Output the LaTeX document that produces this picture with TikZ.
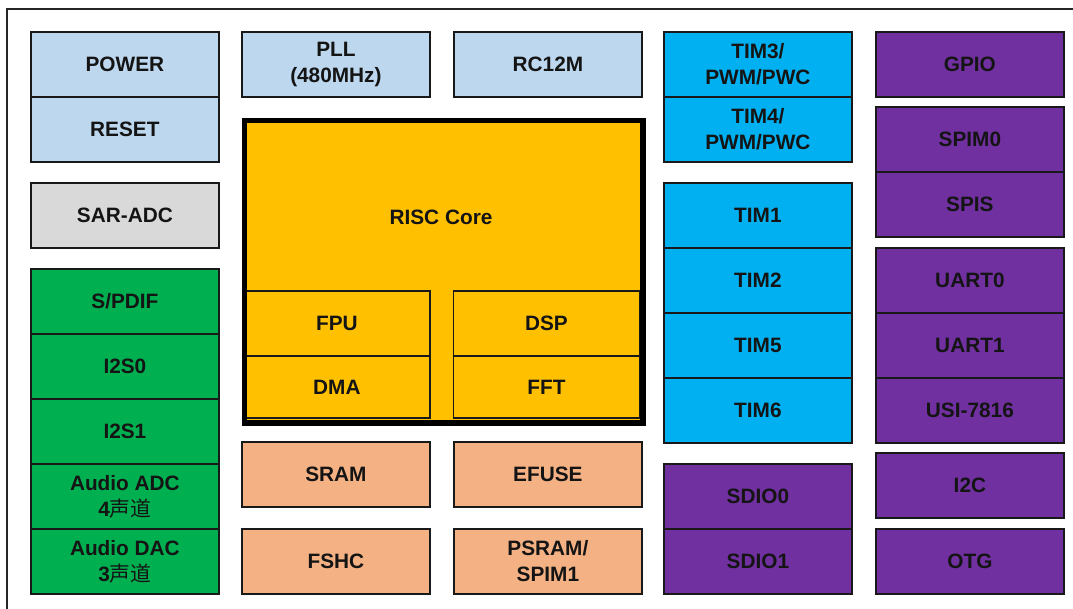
\documentclass[tikz,border=0pt]{standalone}
\usepackage{fontspec}
\setmainfont{Liberation Sans}
\newfontfamily\cjk{Noto Sans CJK SC}
\definecolor{cblue}{HTML}{BDD7EE}
\definecolor{cgray}{HTML}{D9D9D9}
\definecolor{cgreen}{HTML}{00B050}
\definecolor{cgold}{HTML}{FFC000}
\definecolor{csalmon}{HTML}{F4B183}
\definecolor{ccyan}{HTML}{00B0F0}
\definecolor{cpurple}{HTML}{7030A0}
\definecolor{txt}{HTML}{141414}
\tikzset{
  blk/.style={draw=black!90, line width=1.8pt, anchor=north west, minimum width=188pt,
    minimum height=65pt, inner sep=0pt, align=center, text=txt,
    font=\fontsize{20.8}{26}\selectfont\bfseries},
}
\begin{document}
\begin{tikzpicture}[x=1pt,y=-1pt]
\useasboundingbox (0,0) rectangle (1073,609);
\draw[line width=1.5pt, draw=black!85] (7,9) rectangle (1080,615);
% column 1
\node[blk, fill=cblue] (power) at (30,31) {POWER};
\node[blk, fill=cblue] (reset) at (30,96) {RESET};
\node[blk, fill=cgray] (adc) at (30,182) {SAR-ADC};
\node[blk, fill=cgreen] (spdif) at (30,268) {S/PDIF};
\node[blk, fill=cgreen] (i2s0) at (30,333) {I2S0};
\node[blk, fill=cgreen] (i2s1) at (30,398) {I2S1};
\node[blk, fill=cgreen] (aadc) at (30,463) {Audio ADC\\4{\cjk\mdseries 声道}};
\node[blk, fill=cgreen] (adac) at (30,528) {Audio DAC\\3{\cjk\mdseries 声道}};
% column 2/3 top
\node[blk, fill=cblue] (pll) at (241,31) {PLL\\(480MHz)};
\node[blk, fill=cblue] (rc) at (453,31) {RC12M};
% core
\fill[cgold] (241.5,118) rectangle (640,420);
\node[blk, fill=cgold, minimum width=186pt, minimum height=65pt] (fpu) at (243,290) {FPU};
\node[blk, fill=cgold, minimum width=186pt, minimum height=62pt] (dma) at (243,355) {DMA};
\node[blk, fill=cgold, minimum width=186pt, minimum height=65pt] (dsp) at (452.5,290) {DSP};
\node[blk, fill=cgold, minimum width=186pt, minimum height=62pt] (fft) at (452.5,355) {FFT};
\node[draw=black, line width=5.5pt, anchor=north west, minimum width=398.5pt, minimum height=302pt, inner sep=0pt] (core) at (241.5,118) {};
\node[font=\fontsize{20.8}{26}\selectfont\bfseries, text=txt] (corelbl) at (441,217) {RISC Core};
% memory
\node[blk, fill=csalmon] (sram) at (241,441) {SRAM};
\node[blk, fill=csalmon] (efuse) at (453,441) {EFUSE};
\node[blk, fill=csalmon] (fshc) at (241,528) {FSHC};
\node[blk, fill=csalmon] (psram) at (453,528) {PSRAM/\\SPIM1};
% column 4
\node[blk, fill=ccyan] (tim3) at (663,31) {TIM3/\\PWM/PWC};
\node[blk, fill=ccyan] (tim4) at (663,96) {TIM4/\\PWM/PWC};
\node[blk, fill=ccyan] (tim1) at (663,182) {TIM1};
\node[blk, fill=ccyan] (tim2) at (663,247) {TIM2};
\node[blk, fill=ccyan] (tim5) at (663,312) {TIM5};
\node[blk, fill=ccyan] (tim6) at (663,377) {TIM6};
\node[blk, fill=cpurple] (sdio0) at (663,463) {SDIO0};
\node[blk, fill=cpurple] (sdio1) at (663,528) {SDIO1};
% column 5
\node[blk, fill=cpurple] (gpio) at (875,31) {GPIO};
\node[blk, fill=cpurple] (spim0) at (875,106) {SPIM0};
\node[blk, fill=cpurple] (spis) at (875,171) {SPIS};
\node[blk, fill=cpurple] (uart0) at (875,247) {UART0};
\node[blk, fill=cpurple] (uart1) at (875,312) {UART1};
\node[blk, fill=cpurple] (usi) at (875,377) {USI-7816};
\node[blk, fill=cpurple] (i2c) at (875,452) {I2C};
\node[blk, fill=cpurple] (otg) at (875,528) {OTG};
\end{tikzpicture}
\end{document}
